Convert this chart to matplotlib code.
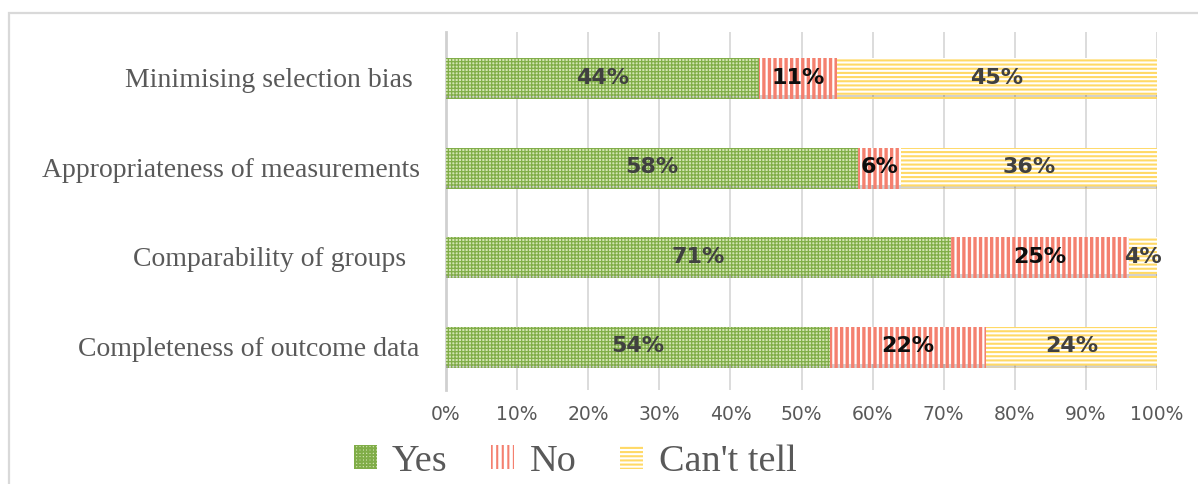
import numpy as np
import matplotlib as mpl
import matplotlib.pyplot as plt
import matplotlib.patheffects as pe
from matplotlib.patches import Rectangle, Patch

# data (bottom -> top, as drawn by barh)
categories = ["Completeness of outcome data", "Comparability of groups  ",
              "Appropriateness of measurements", "Minimising selection bias "]
yes_vals = [54, 71, 58, 44]
no_vals = [22, 25, 6, 11]
cant_vals = [24, 4, 36, 45]
series_names = ["Yes", "No", "Can't tell"]
xticks = [0, 10, 20, 30, 40, 50, 60, 70, 80, 90, 100]

GRAY_TXT = "#595959"

fig = plt.figure(figsize=(11.98, 4.85), dpi=100)
ax = fig.add_axes([0.3723, 0.1938, 0.5935, 0.7382])

# outer chart border
fig.patches.append(Rectangle((9 / 1198, -0.1), 1.2, 1 - 14 / 485 + 0.1,
                             transform=fig.transFigure, fill=False,
                             edgecolor="#d9d9d9", linewidth=1.6, zorder=0))

y = np.arange(len(categories))
h = 0.41
shadow = [pe.SimplePatchShadow(offset=(0, -3), shadow_rgbFace="#000000", alpha=0.18),
          pe.Normal()]

styles = [
    dict(face="#d3e5b3", edge="#80ad48", hatch="+++++", lw=0.9),
    dict(face="white", edge="#f4806f", hatch="|||", lw=2.4),
    dict(face="white", edge="#ffd966", hatch="----", lw=1.5),
]
label_colors = ["#404040", "#0d0d0d", "#404040"]


def set_hlw(p, lw):
    if hasattr(p, "set_hatch_linewidth"):
        p.set_hatch_linewidth(lw)


left = np.zeros(len(categories))
for vals, st, lc in zip([yes_vals, no_vals, cant_vals], styles, label_colors):
    mpl.rcParams["hatch.linewidth"] = st["lw"]
    bars = ax.barh(y, vals, height=h, left=left, facecolor=st["face"],
                   edgecolor=st["edge"], hatch=st["hatch"], linewidth=0,
                   zorder=3)
    for b in bars:
        set_hlw(b, st["lw"])
        b.set_path_effects(shadow)
    for yi, l, v in zip(y, left, vals):
        ax.text(l + v / 2, yi, f"{v}%", ha="center", va="center",
                fontsize=16, fontweight="bold", color=lc, zorder=5,
                family="DejaVu Sans")
    left = left + np.array(vals)

ax.set_xlim(0, 100)
ax.set_ylim(-0.5, 3.5)
ax.set_xticks(xticks)
ax.set_xticklabels([f"{t}%" for t in xticks], fontsize=13.5, color=GRAY_TXT,
                   family="DejaVu Sans")
ax.set_yticks(y)
ax.set_yticklabels(categories, fontsize=20, color=GRAY_TXT, family="Liberation Serif")
ax.tick_params(axis="both", length=0)
ax.tick_params(axis="y", pad=19)
ax.tick_params(axis="x", pad=10)
ax.grid(axis="x", color="#d9d9d9", linewidth=1.3, zorder=0)
for s in ["top", "right", "bottom"]:
    ax.spines[s].set_visible(False)
ax.spines["left"].set_color("#d0d0d0")
ax.spines["left"].set_linewidth(2)

handles = []
for st, n in zip(styles, series_names):
    mpl.rcParams["hatch.linewidth"] = st["lw"]
    p = Patch(facecolor=st["face"], edgecolor=st["edge"], hatch=st["hatch"],
              linewidth=0, label=n)
    set_hlw(p, st["lw"])
    handles.append(p)
leg = fig.legend(handles=handles, loc="center", bbox_to_anchor=(0.48, 0.047),
                 ncol=3, frameon=False, prop={"family": "Liberation Serif", "size": 27.5},
                 handlelength=0.6, handleheight=0.6, handletextpad=0.4,
                 columnspacing=1.15)
for t in leg.get_texts():
    t.set_color(GRAY_TXT)

fig.savefig("out.png", dpi=100, facecolor="white")
